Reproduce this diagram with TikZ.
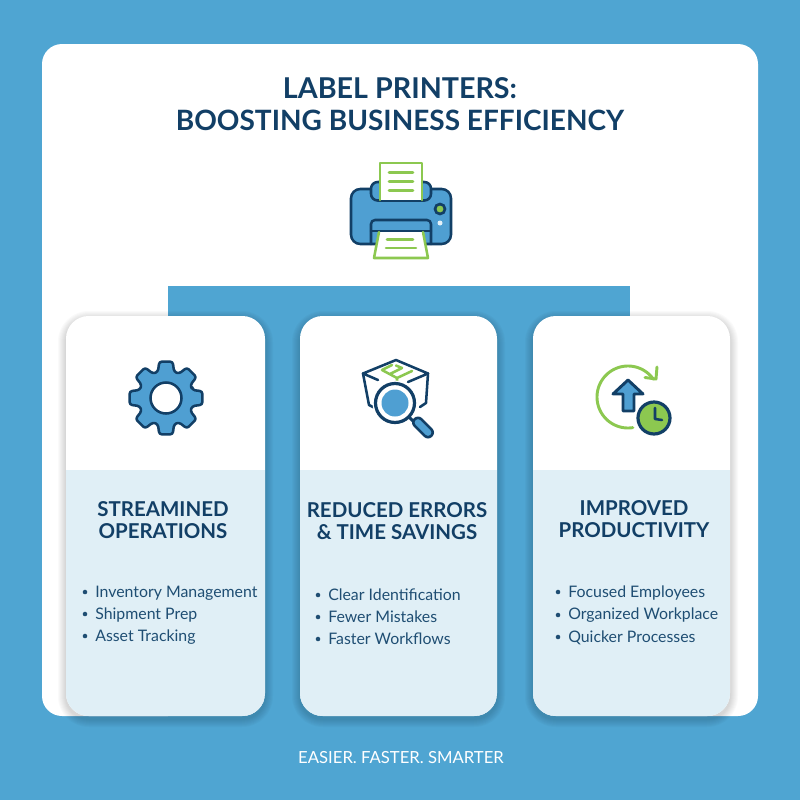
\documentclass[tikz,border=0pt]{standalone}
\usepackage{fontspec}
\setmainfont{Lato}
\definecolor{bluebg}{HTML}{4FA5D2}
\definecolor{tealb}{HTML}{E0EFF6}
\definecolor{navy}{HTML}{123F66}
\definecolor{midblue}{HTML}{4F9FD2}
\definecolor{lgreen}{HTML}{8CC850}
\definecolor{txt}{HTML}{1F4E73}
\tikzset{
 x=0.75pt,y=-0.75pt,
 title/.style={font=\fontsize{21}{24}\selectfont\bfseries,text=navy,align=center,inner sep=0},
 head/.style={font=\fontsize{15.35}{16.5}\selectfont\bfseries,text=navy,align=center,inner sep=0},
 item/.style={font=\fontsize{11.9}{13}\selectfont,text=txt,anchor=base west,inner sep=0},
 dotb/.style={circle,fill=txt,inner sep=0,minimum size=3.4pt},
 ink/.style={draw=navy,line width=1.9pt,line join=round,line cap=round},
 gline/.style={draw=lgreen,line width=1.9pt,line cap=round,line join=round},
 foot/.style={font=\fontsize{12.5}{14}\selectfont,text=white,inner sep=0},
}
\newcommand{\cardbg}[2]{%
 \foreach \i in {1,...,8}{%
  \fill[black,opacity=0.018,rounded corners={17pt+\i*0.75pt}]
   ({#1-\i},{316-\i+3}) rectangle ({#2+\i},{716+\i+3});}
 \fill[white,rounded corners=17pt] (#1,316) rectangle (#2,716);
 \begin{scope}
 \clip[rounded corners=17pt] (#1,316) rectangle (#2,716);
 \fill[tealb] (#1,470) rectangle (#2,716);
 \end{scope}}
\begin{document}
\begin{tikzpicture}
\useasboundingbox (0,0) rectangle (800,800);
\fill[bluebg] (0,0) rectangle (800,800);
\fill[white,rounded corners=15pt] (42,44) rectangle (758,716);
\fill[bluebg] (168,286) rectangle (630,718);
\node[title] (t) at (400,104) {{\fontsize{21.5}{24}\selectfont LABEL PRINTERS:}\\BOOSTING BUSINESS EFFICIENCY};
% printer
\draw[ink,fill=midblue,rounded corners=7pt] (351,189) rectangle (451,244);
\draw[ink,fill=midblue,rounded corners=5pt] (371,200.5) -- (371,182) -- (431,182) -- (431,200.5) -- cycle;
\fill[white] (380,163) rectangle (422,200);
\draw[gline] (380,200) -- (380,163) -- (422,163) -- (422,200);
\draw[gline] (389,172.5) -- (413,172.5) (389,181.5) -- (413,181.5) (389,190.5) -- (413,190.5);
\draw[ink,rounded corners=3pt] (371,244) -- (371,220) -- (431,220) -- (431,244);
\draw[ink] (371,231) -- (431,231);
\fill[white] (379,232) -- (423,232) -- (428,258) -- (374,258) -- cycle;
\draw[gline] (379,232) -- (374,258) -- (428,258) -- (423,232);
\draw[gline] (387,239.5) -- (413,239.5) (386,248) -- (416,248);
\draw[navy,line width=2pt,fill=lgreen] (440,209) circle (5);
\fill[white!85!midblue] (440,223) circle (2.5);
% cards
\cardbg{66}{265}
\cardbg{300}{497}
\cardbg{533}{730}
% gear
\begin{scope}[shift={(166,398)}]
\draw[ink,fill=midblue,rounded corners=2pt]
 (-17:27.5)
 \foreach \a in {0,45,...,315}{ -- ({\a-17}:27.5) -- ({\a-10.5}:37) -- ({\a+10.5}:37) -- ({\a+17}:27.5)} -- cycle;
\draw[ink,fill=white] (0,0) circle (15.5);
\end{scope}
% box and magnifier
\draw[gline] (382,370) -- (397,378) -- (412,371) (397,378) -- (397,382) (382,370) -- (392,365) (390,374) -- (402,368) -- (396,365.5);
\draw[ink] (378,380) -- (363,373.5) -- (396,360) -- (428,373.5) -- (408,382);
\draw[ink] (363,373.5) -- (369,405) -- (375,408) (428,373.5) -- (426,403) -- (420,407);
\draw[draw=white,line width=3pt,fill=white] (395,403) circle (20.5);
\draw[ink,line width=2.4pt,fill=white] (395,403) circle (19.5);
\fill[midblue] (395,403) circle (13.5);
\draw[navy,line width=2.2pt] (409,417) -- (416,424);
\draw[navy,line width=9pt,line cap=round] (418,422.5) -- (428,432.5);
\draw[midblue,line width=5pt,line cap=round] (418,422.5) -- (428,432.5);
% rising arrow and clock
\draw[gline,line width=2.2pt] plot[domain=-35:-279,samples=70] ({628+31*cos(\x)},{397+31*sin(\x)});
\draw[gline,line width=2.2pt] (657,367) -- (656,379) -- (645,377.5);
\draw[ink,line width=2.2pt,fill=midblue] (628,380) -- (643,394) -- (634,394) -- (634,411) -- (623,411) -- (623,394) -- (613,394) -- cycle;
\fill[white] (654,418) circle (19);
\draw[ink,line width=2.4pt,fill=lgreen] (654,418) circle (16);
\draw[ink,line width=1.9pt] (655,408) -- (655,419) -- (662,420);
% card 1 text
\node[head] (h1) at (163,520) {STREAMINED\\OPERATIONS};
\node[dotb] (b1a) at (85,592) {}; \node[item] (i1a) at (95,597) {Inventory Management};
\node[dotb] (b1b) at (85,614) {}; \node[item] (i1b) at (95,619) {Shipment Prep};
\node[dotb] (b1c) at (85,636) {}; \node[item] (i1c) at (95,641) {Asset Tracking};
% card 2 text
\node[head] (h2) at (397,521) {REDUCED ERRORS\\\& TIME SAVINGS};
\node[dotb] (b2a) at (318,595) {}; \node[item] (i2a) at (328,600) {Clear Identification};
\node[dotb] (b2b) at (318,617) {}; \node[item] (i2b) at (328,622) {Fewer Mistakes};
\node[dotb] (b2c) at (318,639) {}; \node[item] (i2c) at (328,644) {Faster Workflows};
% card 3 text
\node[head] (h3) at (634,519.5) {IMPROVED\\PRODUCTIVITY};
\node[dotb] (b3a) at (558,592) {}; \node[item] (i3a) at (568,597) {Focused Employees};
\node[dotb] (b3b) at (558,615) {}; \node[item] (i3b) at (568,619.5) {Organized Workplace};
\node[dotb] (b3c) at (558,637) {}; \node[item] (i3c) at (568,642) {Quicker Processes};
\node[foot] (f) at (401,758) {EASIER. FASTER. SMARTER};
\end{tikzpicture}
\end{document}
